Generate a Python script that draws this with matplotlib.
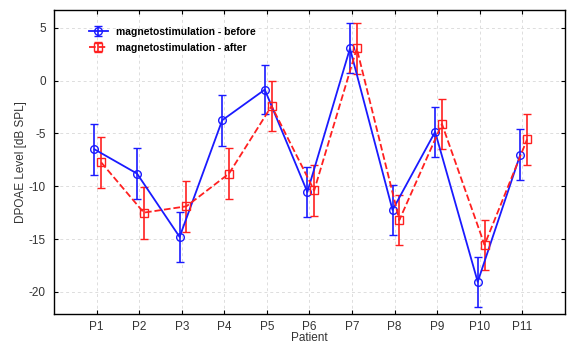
import matplotlib
matplotlib.use("Agg")
import matplotlib.pyplot as plt
import numpy as np

plt.rcParams['font.family'] = ['Liberation Sans', 'DejaVu Sans']

patients = ["P1", "P2", "P3", "P4", "P5", "P6", "P7", "P8", "P9", "P10", "P11"]
before_mean = [-6.5, -8.8, -14.8, -3.75, -0.85, -10.55, 3.05, -12.25, -4.85, -19.05, -7.0]
before_err = [2.4, 2.4, 2.4, 2.4, 2.35, 2.4, 2.37, 2.35, 2.35, 2.35, 2.45]
after_mean = [-7.75, -12.5, -11.9, -8.8, -2.4, -10.4, 3.05, -13.2, -4.1, -15.55, -5.55]
after_err = [2.45, 2.45, 2.42, 2.4, 2.4, 2.45, 2.45, 2.4, 2.4, 2.35, 2.4]

fig = plt.figure(figsize=(5.67, 3.44), dpi=100)
ax = fig.add_axes([0.0952, 0.0872, 0.9013, 0.884])

x = np.arange(1, len(patients) + 1)
blue = '#1a1aff'
red = '#ff2020'
ax.errorbar(x - 0.05, before_mean, yerr=before_err, color=blue, lw=1.3,
            marker='o', mfc='none', mec=blue, ms=5.5, capsize=3, elinewidth=1.2,
            label='magnetostimulation - before', zorder=3)
ax.errorbar(x + 0.11, after_mean, yerr=after_err, color=red, lw=1.3, ls='--',
            marker='s', mfc='none', mec=red, ms=5.5, capsize=3, elinewidth=1.2,
            label='magnetostimulation - after', zorder=3)

ax.set_xlim(0, 12)
ax.set_ylim(-22.1, 6.7)
ax.set_xticks(x)
ax.set_xticklabels(patients)
ax.set_yticks([-20, -15, -10, -5, 0, 5])
ax.set_yticklabels(['-20', '-15', '-10', '-5', '0', '5'])
ax.tick_params(direction='in', top=True, right=True, length=3, width=0.8,
               labelsize=8.5, colors='black', labelcolor='#333333', pad=6)
ax.tick_params(axis='x', pad=5)
ax.grid(True, ls=(0, (3, 3)), color='#dddddd', lw=0.7)
ax.set_axisbelow(True)
for s in ax.spines.values():
    s.set_linewidth(1.0)

ax.set_xlabel('Patient', fontsize=8.5, labelpad=-1, color='#333333')
ax.set_ylabel('DPOAE Level [dB SPL]', fontsize=8.5, labelpad=1, color='#333333')

leg = ax.legend(loc='upper left', bbox_to_anchor=(0.05, 0.975), frameon=False,
                prop={'weight': 'bold', 'size': 7.5}, handlelength=1.8,
                handletextpad=0.8, labelspacing=0.55)

fig.savefig('out.png', dpi=100)
